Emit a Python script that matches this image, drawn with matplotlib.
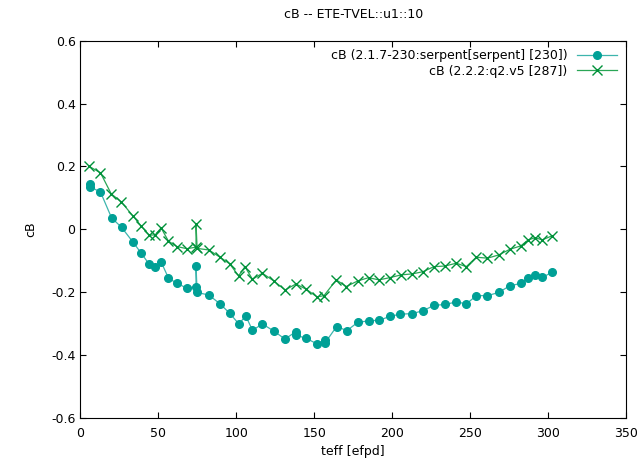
import matplotlib
matplotlib.use("Agg")
import matplotlib.pyplot as plt

# data
x_serp = [5.9, 5.9, 12.9, 20.0, 26.4, 33.9, 39.0, 44.1, 48.0, 51.8,
          56.5, 61.9, 68.3, 74.2, 74.2, 74.9, 82.4, 89.6, 95.8, 101.7,
          106.1, 110.4, 116.8, 124.0, 131.3, 138.3, 138.3, 145.0, 151.8, 157.0,
          157.0, 164.4, 171.0, 177.9, 184.9, 191.8, 198.6, 204.9, 212.9, 219.7,
          226.9, 234.0, 241.2, 247.7, 254.1, 261.2, 268.3, 275.5, 282.6, 287.3,
          291.8, 296.3, 302.7]
y_serp = [0.146, 0.136, 0.119, 0.037, 0.007, -0.041, -0.075, -0.11, -0.12, -0.103,
          -0.154, -0.171, -0.186, -0.181, -0.116, -0.2, -0.208, -0.236, -0.266, -0.3,
          -0.274, -0.32, -0.3, -0.322, -0.348, -0.324, -0.335, -0.346, -0.363, -0.35,
          -0.36, -0.308, -0.321, -0.295, -0.29, -0.288, -0.276, -0.269, -0.267, -0.258,
          -0.241, -0.238, -0.23, -0.236, -0.21, -0.21, -0.2, -0.179, -0.171, -0.155,
          -0.146, -0.152, -0.136]

x_q2 = [5.4, 12.9, 19.8, 26.2, 33.7, 39.0, 44.1, 48.0, 51.8, 56.5,
        61.9, 68.3, 74.2, 74.2, 74.9, 82.4, 89.6, 95.8, 101.5, 105.6,
        110.4, 116.8, 124.0, 131.3, 138.3, 145.0, 151.8, 156.3, 164.2, 170.6,
        178.1, 184.9, 191.6, 198.4, 205.9, 212.9, 219.8, 226.8, 233.9, 241.2,
        247.6, 254.0, 261.2, 268.3, 275.5, 282.6, 287.3, 291.8, 296.3, 302.7]
y_q2 = [0.201, 0.18, 0.113, 0.088, 0.043, 0.011, -0.018, -0.017, 0.005, -0.037,
        -0.054, -0.061, -0.056, 0.017, -0.06, -0.065, -0.088, -0.109, -0.147, -0.118,
        -0.158, -0.139, -0.163, -0.192, -0.173, -0.19, -0.214, -0.21, -0.16, -0.181,
        -0.163, -0.153, -0.16, -0.153, -0.144, -0.141, -0.134, -0.118, -0.116, -0.107,
        -0.118, -0.088, -0.091, -0.081, -0.063, -0.052, -0.033, -0.026, -0.033, -0.02]

lbl_serp = "cB (2.1.7-230:serpent[serpent] [230])"
lbl_q2 = "cB (2.2.2:q2.v5 [287])"

teal = "#00a096"
teal_line = "#3db5ad"
green = "#00913a"
green_line = "#2aa656"

fig = plt.figure(figsize=(6.38, 4.71), dpi=100)
ax = fig.add_axes([0.126, 0.1115, 0.855, 0.8025])

ax.plot(x_serp, y_serp, color=teal_line, lw=0.9, marker="o", ms=5.5,
        mec=teal, mfc=teal, label=lbl_serp)
ax.plot(x_q2, y_q2, color=green_line, lw=0.9, marker="x", ms=6.5, mew=1,
        mec=green, label=lbl_q2)

ax.set_xlim(0, 350)
ax.set_ylim(-0.6, 0.6)
ax.set_xticks(range(0, 351, 50))
ax.set_yticks([-0.6, -0.4, -0.2, 0, 0.2, 0.4, 0.6])
ax.set_yticklabels(["-0.6", "-0.4", "-0.2", "0", "0.2", "0.4", "0.6"])
ax.tick_params(direction="in", top=True, right=True, length=4, labelsize=9, colors="black")
ax.tick_params(axis="x", pad=6)
ax.set_xlabel("teff [efpd]", fontsize=9)
ax.set_ylabel("cB", fontsize=9, labelpad=10)
ax.set_title("cB -- ETE-TVEL::u1::10", fontsize=9, pad=16)

ax.legend(loc="upper right", frameon=False, markerfirst=False, fontsize=9,
          handlelength=3.2, borderaxespad=0.3, labelspacing=0.2)

fig.savefig("out.png", dpi=100)
